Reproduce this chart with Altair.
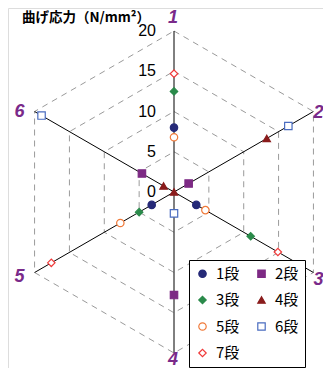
import altair as alt
import pandas as pd

# ---- data ----
series = ["1段", "2段", "3段", "4段", "5段", "6段", "7段"]
axis_names = ["1", "2", "3", "4", "5", "6"]
tick_values = [0, 5, 10, 15, 20]
ring_values = [5, 10, 15, 20]
# values per axis 1..6 (None = no value)
v1 = [8.0, None, 3.2, None, 3.2, None]
v2 = [None, 2.1, None, 12.8, None, 4.6]
v3 = [12.5, None, 11.0, None, 5.0, None]
v4 = [None, 13.3, None, 0.0, None, 1.5]
v5 = [6.8, None, 4.5, None, 7.7, None]
v6 = [None, 16.4, None, 2.65, None, 19.0]
v7 = [14.7, None, 14.9, None, 17.6, None]
all_vals = [v1, v2, v3, v4, v5, v6, v7]

fill_colors = ["#262a78", "#7d2a84", "#2a8a4a", "#8a1c1c", "white", "white", "white"]
stroke_colors = ["#262a78", "#7d2a84", "#2a8a4a", "#8a1c1c", "#f07a3a", "#4a6cc0", "#f03a3a"]
shapes = ["circle", "square", "diamond", "triangle-up", "circle", "square", "diamond"]

rows = []
for s, vals in zip(series, all_vals):
    for i, v in enumerate(vals):
        if v is not None:
            rows.append({"series": s, "axis": i + 1, "r": v})
pts = pd.DataFrame(rows)

ring_rows = []
for r in ring_values:
    for k in range(7):
        ring_rows.append({"ring": r, "k": k, "axis": (k % 6) + 1, "r": r})
rings = pd.DataFrame(ring_rows)

spokes = pd.DataFrame({"axis": list(range(1, 7)), "r": [20] * 6, "zero": [0] * 6})
ticks = pd.DataFrame({"t": tick_values, "label": [str(t) for t in tick_values], "x0": [0] * 5})

# ---- geometry ----
W, H = 315, 360
CX, CY = 166, 184
K = 8.05
xdom = [-CX / K, (W - CX) / K]
ydom = [-(H - CY) / K, CY / K]
xs = alt.Scale(domain=xdom, nice=False, zero=False)
ys = alt.Scale(domain=ydom, nice=False, zero=False)

theta = "PI/2 - (datum.axis - 1) * PI/3"
polar = dict(px=f"datum.r * cos({theta})", py=f"datum.r * sin({theta})")

X = alt.X("px:Q", scale=xs, axis=None)
Y = alt.Y("py:Q", scale=ys, axis=None)

grid = alt.Chart(rings).transform_calculate(**polar).mark_line(
    color="#9a9a9a", strokeWidth=1, strokeDash=[6, 5]
).encode(x=X, y=Y, detail="ring:N", order="k:Q")

spoke = alt.Chart(spokes).transform_calculate(**polar).mark_rule(
    color="black", strokeWidth=1
).encode(
    x=alt.X("zero:Q", scale=xs, axis=None),
    y=alt.Y("zero:Q", scale=ys, axis=None),
    x2="px:Q", y2="py:Q",
)

tick_text = alt.Chart(ticks).mark_text(
    align="right", baseline="middle", dx=-18, fontSize=16,
    font="Liberation Sans", color="black"
).encode(
    x=alt.X("x0:Q", scale=xs, axis=None),
    y=alt.Y("t:Q", scale=ys, axis=None),
    text="label:N",
)

label_offsets = [(-1, -13), (5, 1), (5, 7), (-1, 7), (-15, 4), (-15, 0)]
label_layers = []
for i, name in enumerate(axis_names):
    d = pd.DataFrame({"axis": [i + 1], "r": [20], "name": [name]})
    dx, dy = label_offsets[i]
    label_layers.append(
        alt.Chart(d).transform_calculate(**polar).mark_text(
            align="center", baseline="middle", dx=dx, dy=dy, fontSize=18,
            fontStyle="italic", fontWeight="bold", font="Liberation Sans",
            color="#7a2a8a"
        ).encode(x=X, y=Y, text="name:N")
    )

title = alt.Chart(pd.DataFrame({"t": ["曲げ応力（N/mm²）"]})).mark_text(
    align="left", baseline="middle", fontSize=13.5, fontWeight="bold",
    font="Noto Sans CJK JP", color="black"
).encode(x=alt.value(14), y=alt.value(10), text="t:N")

leg = alt.Legend(
    title=None, orient="none", legendX=181, legendY=252, columns=2,
    direction="horizontal",
    strokeColor="black", fillColor="white", padding=6,
    labelFontSize=15, labelFont="Noto Sans CJK JP",
    labelColor="black", symbolSize=55, symbolStrokeWidth=1.2,
    rowPadding=10.5, columnPadding=14, labelOffset=6,
)

points = alt.Chart(pts).transform_calculate(**polar).mark_point(
    filled=True, size=55, strokeWidth=1.2, opacity=1
).encode(
    x=X, y=Y,
    shape=alt.Shape("series:N", scale=alt.Scale(domain=series, range=shapes), legend=leg),
    fill=alt.Fill("series:N", scale=alt.Scale(domain=series, range=fill_colors), legend=leg),
    stroke=alt.Stroke("series:N", scale=alt.Scale(domain=series, range=stroke_colors), legend=leg),
)

chart = alt.layer(grid, spoke, tick_text, *label_layers, title, points).properties(
    width=W, height=H, padding=0, autosize=alt.AutoSizeParams(type="none")
).configure_view(stroke=None).configure(background="white")

chart.save("out.html", embed_options={"renderer": "svg", "actions": False})
